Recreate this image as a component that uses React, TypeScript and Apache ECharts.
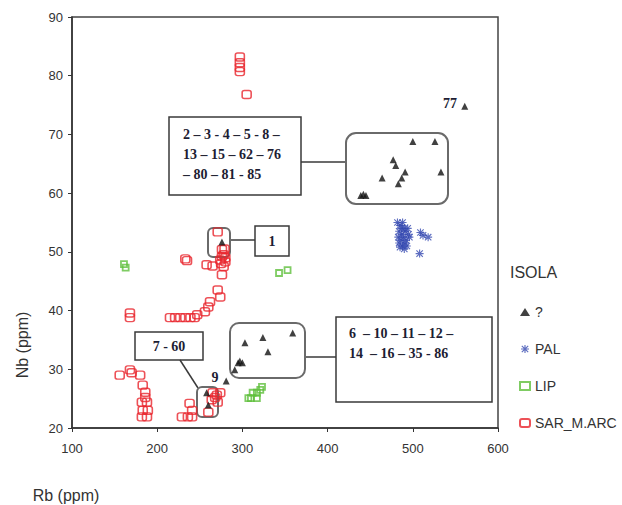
import React, { useEffect, useRef } from "react";
import * as echarts from "echarts";

// ---- data ----
const seriesNames = ["?", "PAL", "LIP", "SAR_M.ARC"];
const xTicks = [100, 600, 100]; // min, max, interval
const yTicks = [20, 90, 10];

const qData: [number, number][] = [
  [561, 74.8], [500, 68.8], [526, 68.8], [477, 65.7], [480, 64.7], [491, 63.6],
  [464, 62.6], [487, 62.6], [483, 61.6], [533, 63.6], [439, 59.6], [445, 59.6], [442, 59.8],
  [303, 34.5], [324, 35.4], [330, 33.0], [359, 36.2], [295, 31.1], [300, 31.1], [291, 29.9], [297, 31.4],
  [281, 28.0], [258, 26.0], [260, 23.9], [276, 51.7],
];

const palData: [number, number][] = [
  [482, 55], [485, 54.5], [488, 55], [490, 54], [484, 53.5], [487, 53], [491, 53.5], [494, 54],
  [483, 52.5], [486, 52], [489, 52.5], [492, 52], [495, 53], [484, 51.5], [488, 51], [491, 51.5],
  [485, 50.8], [490, 50.5], [493, 51], [487, 54], [496, 52.5], [509, 53.3], [512, 52.8], [518, 52.5], [508, 49.7],
];

const lipData: [number, number][] = [
  [161, 47.9], [163, 47.3], [343, 46.4], [353, 46.9],
  [307, 25.1], [317, 25.1], [312, 26.0], [317, 26.0], [323, 27.0], [321, 26.5], [310, 25.1],
];

const sarData: [number, number][] = [
  [297, 83.2], [297, 82.2], [297, 81.4], [297, 80.7], [305, 76.8],
  [271, 53.4], [276, 50.4], [276, 49.2], [280, 48.3], [274, 48.6], [278, 49.5], [278, 47.5],
  [275, 48.0], [280, 49.0], [279, 50.5], [233, 48.8], [235, 48.5], [258, 47.8], [265, 47.6],
  [276, 46.1], [271, 43.5], [274, 42.3], [262, 41.5], [260, 40.6], [256, 39.8], [247, 39.3],
  [244, 38.8], [215, 38.8], [221, 38.8], [227, 38.8], [233, 38.8], [239, 38.8], [168, 39.6], [168, 38.8],
  [156, 29.0], [168, 29.9], [170, 29.4], [180, 29.0], [183, 27.3], [186, 26.1], [182, 24.4],
  [188, 24.4], [183, 23.0], [189, 23.0], [182, 21.9], [188, 21.9], [186, 25.2],
  [229, 21.9], [236, 21.9], [241, 21.9], [238, 24.2], [241, 23.0], [260, 22.7], [264, 24.8],
  [270, 25.6], [274, 26.0], [265, 26.0], [271, 24.4], [268, 25.2],
];

const groupA = ["2 – 3 - 4 – 5 - 8 –", "13 – 15 – 62 – 76", "– 80 – 81 - 85"];
const groupB = ["6  – 10 – 11 – 12 –", "14  – 16 – 35 - 86"];

const STAR =
  "path://M4.3 0L5.7 0L5.7 10L4.3 10Z M1.5 0.5L9.5 8.5L8.5 9.5L0.5 1.5Z M8.5 0.5L9.5 1.5L1.5 9.5L0.5 8.5Z M0 4.3L10 4.3L10 5.7L0 5.7Z";

const SERIF = "'Liberation Serif', 'Times New Roman', serif";
const SANS = "'Liberation Sans', Arial, sans-serif";
const ANN = "#1d1d33";

export default function App() {
  const ref = useRef<HTMLDivElement>(null);
  useEffect(() => {
    if (!ref.current) return;
    const chart = echarts.init(ref.current, null, { renderer: "svg" });
    const boxStroke = { stroke: "#3a3a3a", lineWidth: 1.5 };
    const rrStroke = { stroke: "#6a6a6a", lineWidth: 2, fill: "none" };
    const txt = (x: number, y: number, text: string, align = "left") => ({
      type: "text",
      x,
      y,
      style: { text, fill: ANN, font: `bold 14px ${SERIF}`, align, verticalAlign: "middle" },
    });
    chart.setOption({
      animation: false,
      grid: { left: 72, top: 17, right: 124, bottom: 77, show: true, borderColor: "#444", borderWidth: 1.5 },
      xAxis: {
        type: "value",
        min: xTicks[0],
        max: xTicks[1],
        interval: xTicks[2],
        splitLine: { show: false },
        axisLine: { lineStyle: { color: "#333", width: 1.5 } },
        axisTick: { length: 4, lineStyle: { color: "#333" } },
        axisLabel: { color: "#333", fontSize: 13, fontFamily: SANS, margin: 14 },
      },
      yAxis: {
        type: "value",
        min: yTicks[0],
        max: yTicks[1],
        interval: yTicks[2],
        splitLine: { show: false },
        axisLine: { show: true, lineStyle: { color: "#333", width: 1.5 } },
        axisTick: { show: true, length: 4, lineStyle: { color: "#333" } },
        axisLabel: { color: "#333", fontSize: 13, fontFamily: SANS, margin: 9 },
      },
      legend: {
        data: seriesNames,
        orient: "vertical",
        left: 514,
        top: 300,
        itemGap: 23,
        itemWidth: 10,
        itemHeight: 8,
        textStyle: { color: "#333", fontSize: 14, fontFamily: SANS },
      },
      series: [
        {
          name: "SAR_M.ARC",
          type: "scatter",
          data: sarData,
          symbol: "roundRect",
          symbolSize: [9, 8],
          itemStyle: { color: "rgba(255,255,255,0)", borderColor: "#e8252d", borderWidth: 1.5 },
        },
        {
          name: "LIP",
          type: "scatter",
          data: lipData,
          symbol: "rect",
          symbolSize: 6,
          itemStyle: { color: "rgba(255,255,255,0)", borderColor: "#5fbf3c", borderWidth: 1.8 },
        },
        {
          name: "PAL",
          type: "scatter",
          data: palData,
          symbol: STAR,
          symbolSize: 8,
          itemStyle: { color: "#3549b0" },
        },
        {
          name: "?",
          type: "scatter",
          data: qData,
          symbol: "triangle",
          symbolSize: 7,
          itemStyle: { color: "#111" },
        },
      ],
      graphic: [
        { type: "text", x: 22, y: 345, rotation: Math.PI / 2, style: { text: "Nb (ppm)", fill: "#333", font: `16px ${SANS}`, align: "center", verticalAlign: "middle" } },
        { type: "text", x: 66, y: 495, style: { text: "Rb (ppm)", fill: "#333", font: `16px ${SANS}`, align: "center", verticalAlign: "middle" } },
        { type: "text", x: 510, y: 272, style: { text: "ISOLA", fill: "#333", font: `16px ${SANS}`, align: "left", verticalAlign: "middle" } },
        // group A
        { type: "rect", shape: { x: 169, y: 117, width: 132, height: 78 }, style: { ...boxStroke, fill: "#fff" } },
        txt(183, 134, groupA[0]),
        txt(183, 154, groupA[1]),
        txt(183, 174, groupA[2]),
        { type: "line", shape: { x1: 301, y1: 162, x2: 346, y2: 162 }, style: boxStroke },
        { type: "rect", shape: { x: 346, y: 133, width: 102, height: 71, r: 10 }, style: rrStroke },
        // sample 1
        { type: "rect", shape: { x: 255, y: 226, width: 34, height: 30 }, style: { ...boxStroke, fill: "#fff" } },
        txt(272, 241, "1", "center"),
        { type: "line", shape: { x1: 230, y1: 240, x2: 255, y2: 240 }, style: boxStroke },
        { type: "rect", shape: { x: 208, y: 228, width: 22, height: 29, r: 5 }, style: rrStroke },
        // group B
        { type: "rect", shape: { x: 336, y: 317, width: 156, height: 85 }, style: { ...boxStroke, fill: "#fff" } },
        txt(349, 333, groupB[0]),
        txt(349, 353, groupB[1]),
        { type: "line", shape: { x1: 305, y1: 357, x2: 336, y2: 357 }, style: boxStroke },
        { type: "rect", shape: { x: 230, y: 323, width: 75, height: 55, r: 9 }, style: rrStroke },
        // 7 - 60
        { type: "rect", shape: { x: 135, y: 332, width: 68, height: 28 }, style: { ...boxStroke, fill: "#fff" } },
        txt(169, 346, "7 - 60", "center"),
        { type: "line", shape: { x1: 180, y1: 360, x2: 198, y2: 388 }, style: boxStroke },
        { type: "rect", shape: { x: 197, y: 387, width: 21, height: 30, r: 5 }, style: rrStroke },
        txt(215, 377, "9", "center"),
        txt(450, 103, "77", "center"),
      ],
    });
    return () => chart.dispose();
  }, []);
  return <div ref={ref} style={{ position: "fixed", left: 0, top: 0, width: 622, height: 505, background: "#fff" }} />;
}
